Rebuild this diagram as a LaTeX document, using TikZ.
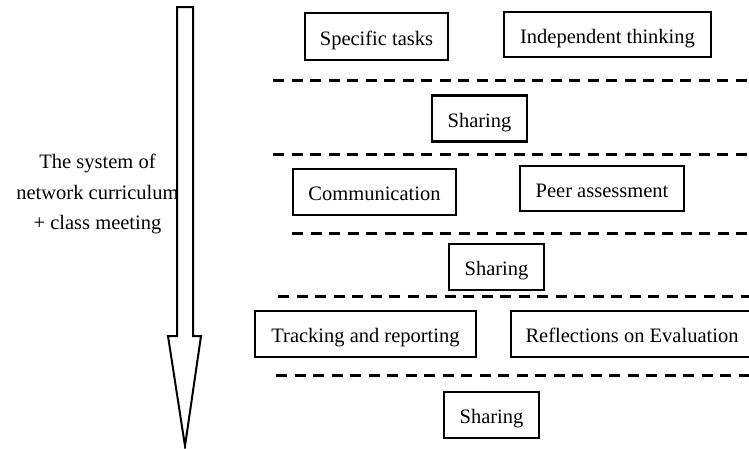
\documentclass[tikz,border=0pt]{standalone}
\usepackage{fontspec}
\setmainfont{Liberation Serif}
\begin{document}
\begin{tikzpicture}[x=1pt,y=-1pt,
  every node/.style={font=\fontsize{20.5}{30.5}\selectfont, inner sep=0pt},
  taskbox/.style={draw, line width=1.3pt, text height=17pt, text depth=0pt},
  sharebox/.style={draw, line width=2.6pt, minimum width=95pt, minimum height=46pt, text height=17pt, text depth=0pt},
  sep/.style={line width=3pt, dash pattern=on 11pt off 7.5pt}]
\useasboundingbox (0,0) rectangle (749,448);
\begin{scope}
\clip (0,0) rectangle (749,448);
% big arrow
\draw[line width=2pt, line join=miter] (177,7) -- (193,7) -- (193,336) -- (201,336) -- (185,446) -- (168,336) -- (177,336) -- cycle;
% left label
\node[align=center] (label) at (97.5,194) {The system of\\network curriculum\\+ class meeting};
% stage 1
\node[taskbox, minimum width=143pt, minimum height=47pt] (tasks) at (376.5,36.5) {Specific tasks};
\node[taskbox, minimum width=207pt, minimum height=45pt] (think) at (607.5,34.5) {Independent thinking};
\coordinate (d1a) at (273,80); \coordinate (d1b) at (760,80);
\draw[sep] (d1a) -- (d1b);
\node[sharebox] (share1) at (479.5,118.5) {Sharing};
\coordinate (d2a) at (273,154); \coordinate (d2b) at (760,154);
\draw[sep] (d2a) -- (d2b);
% stage 2
\node[taskbox, minimum width=163pt, minimum height=46pt] (comm) at (374.5,192) {Communication};
\node[taskbox, minimum width=164pt, minimum height=45pt] (peer) at (602,188.5) {Peer assessment};
\coordinate (d3a) at (292,233); \coordinate (d3b) at (760,233);
\draw[sep] (d3a) -- (d3b);
\node[sharebox] (share2) at (496.5,267) {Sharing};
\coordinate (d4a) at (278,296); \coordinate (d4b) at (760,296);
\draw[sep] (d4a) -- (d4b);
% stage 3
\node[taskbox, minimum width=221pt, minimum height=46pt] (track) at (365.5,334) {Tracking and reporting};
\node[taskbox, minimum width=242pt, minimum height=46pt] (reflect) at (632,334) {Reflections on Evaluation};
\coordinate (d5a) at (276,375); \coordinate (d5b) at (760,375);
\draw[sep] (d5a) -- (d5b);
\node[sharebox] (share3) at (491.5,415) {Sharing};
\end{scope}
\end{tikzpicture}
\end{document}
